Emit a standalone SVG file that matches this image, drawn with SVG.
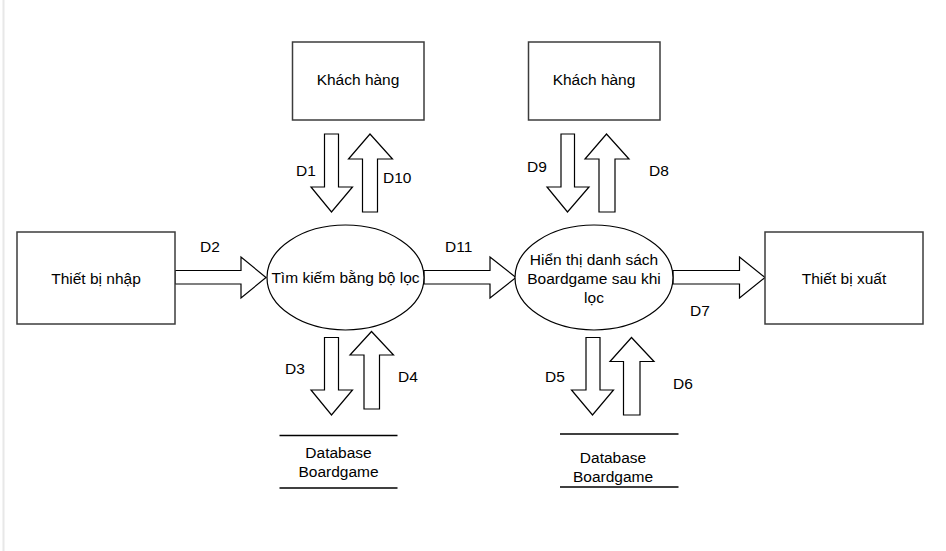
<svg xmlns="http://www.w3.org/2000/svg" width="946" height="551" viewBox="0 0 946 551">
<style>
.box{fill:#fff;stroke:#3c3c3c;stroke-width:1.5}
.proc{fill:#fff;stroke:#000;stroke-width:1.2}
.arr{fill:#fff;stroke:#000;stroke-width:1.2;stroke-linejoin:miter}
.store{stroke:#000;stroke-width:1.3}
text{font-family:"Liberation Sans",Arial,sans-serif;font-size:15.5px;fill:#000}
.c{text-anchor:middle}
</style>
<rect width="946" height="551" fill="#fff"/>
<line x1="3.5" y1="0" x2="3.5" y2="551" stroke="#e8e8e8" stroke-width="2"/>

<g id="connectors">
  <!-- D1 down -->
  <polygon class="arr" points="324.5,134 338.5,134 338.5,187 352.5,187 331.5,212 311,187 324.5,187"/>
  <!-- D10 up -->
  <polygon class="arr" points="362.5,212 377.5,212 377.5,159 392.5,159 370,134 348.5,159 362.5,159"/>
  <!-- D9 down -->
  <polygon class="arr" points="561,134 574.5,134 574.5,187 589,187 567.5,212 547,187 561,187"/>
  <!-- D8 up -->
  <polygon class="arr" points="599,212 615,212 615,159 629,159 606.5,134 585,159 599,159"/>
  <!-- D2 right -->
  <polygon class="arr" points="175,270.5 241,270.5 241,257 266,277.5 241,298 241,284 175,284"/>
  <!-- D11 right -->
  <polygon class="arr" points="424,270.5 490,270.5 490,257 516,277.5 490,298 490,284 424,284"/>
  <!-- D7 right -->
  <polygon class="arr" points="673,270.5 739.5,270.5 739.5,257 765,277.5 739.5,298 739.5,284 673,284"/>
  <!-- D3 down -->
  <polygon class="arr" points="324.5,337.5 338.5,337.5 338.5,390 352.5,390 331.5,415 311,390 324.5,390"/>
  <!-- D4 up -->
  <polygon class="arr" points="364,409 379.5,409 379.5,355 393.5,355 371.5,331.5 350,355 364,355"/>
  <!-- D5 down -->
  <polygon class="arr" points="586,337.5 600,337.5 600,390 613.5,390 592.5,415 571.5,390 586,390"/>
  <!-- D6 up -->
  <polygon class="arr" points="623.5,415 640,415 640,361.5 654,361.5 631.5,337.5 610,361.5 623.5,361.5"/>

  <text x="296" y="175.5">D1</text>
  <text x="383" y="182.5">D10</text>
  <text x="527" y="172">D9</text>
  <text x="649" y="175.5">D8</text>
  <text x="200" y="251.5">D2</text>
  <text x="445" y="251.5">D11</text>
  <text x="690" y="316">D7</text>
  <text x="285" y="373.5">D3</text>
  <text x="398" y="382">D4</text>
  <text x="545" y="382">D5</text>
  <text x="673" y="388.5">D6</text>
</g>

<g id="khachhang1">
  <rect class="box" x="292.5" y="42" width="131.5" height="78"/>
  <text class="c" x="358" y="85">Khách hàng</text>
</g>
<g id="khachhang2">
  <rect class="box" x="528.5" y="42" width="131.5" height="78"/>
  <text class="c" x="594" y="85">Khách hàng</text>
</g>
<g id="thietbinhap">
  <rect class="box" x="17" y="232" width="158" height="92"/>
  <text class="c" x="96" y="283.5">Thiết bị nhập</text>
</g>
<g id="thietbixuat">
  <rect class="box" x="765" y="232" width="158" height="92"/>
  <text class="c" x="844" y="283.5">Thiết bị xuất</text>
</g>
<g id="timkiem">
  <ellipse class="proc" cx="345.5" cy="277.5" rx="78.5" ry="52.5"/>
  <text class="c" x="345.5" y="283">Tìm kiếm bằng bộ lọc</text>
</g>
<g id="hienthi">
  <ellipse class="proc" cx="594" cy="277.5" rx="79" ry="52.5"/>
  <text class="c" x="594" y="265">Hiển thị danh sách</text>
  <text class="c" x="594" y="284">Boardgame sau khi</text>
  <text class="c" x="594" y="303">lọc</text>
</g>
<g id="database1">
  <line class="store" x1="279.5" y1="435.5" x2="397.5" y2="435.5"/>
  <line class="store" x1="279.5" y1="488" x2="397.5" y2="488"/>
  <text class="c" x="338.5" y="458">Database</text>
  <text class="c" x="338.5" y="477">Boardgame</text>
</g>
<g id="database2">
  <line class="store" x1="560" y1="434" x2="678.5" y2="434"/>
  <line class="store" x1="560" y1="487" x2="678.5" y2="487" stroke-width="2"/>
  <text class="c" x="613" y="462.5">Database</text>
  <text class="c" x="613" y="481.5">Boardgame</text>
</g>
</svg>
